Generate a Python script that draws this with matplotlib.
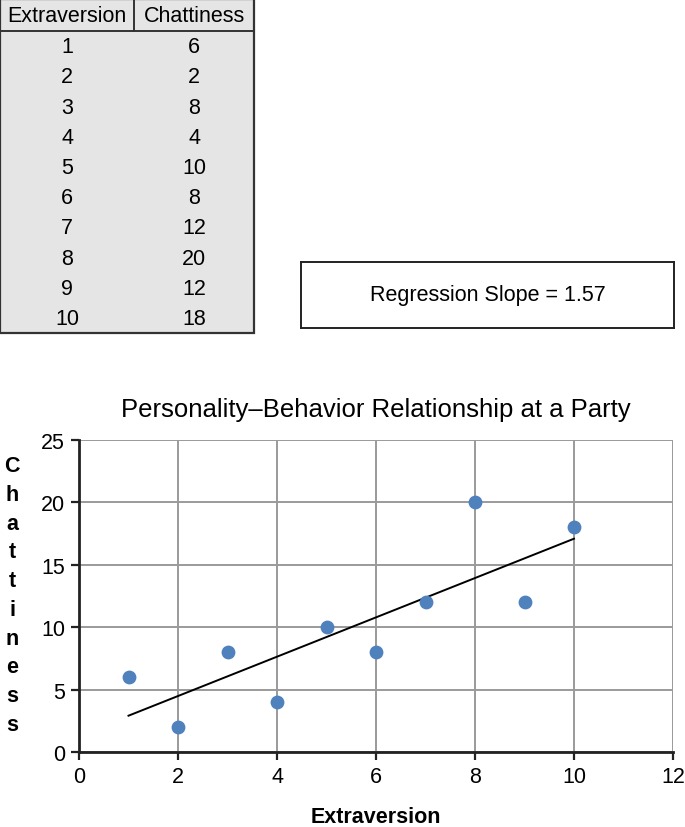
import numpy as np
import matplotlib.pyplot as plt
from matplotlib.patches import Rectangle

plt.rcParams['font.family'] = ['Liberation Sans', 'DejaVu Sans']

# data from the table in the picture
extraversion = [1, 2, 3, 4, 5, 6, 7, 8, 9, 10]
chattiness = [6, 2, 8, 4, 10, 8, 12, 20, 12, 18]
col_labels = ['Extraversion', 'Chattiness']
title = 'Personality\u2013Behavior Relationship at a Party'

x = np.array(extraversion)
y = np.array(chattiness)
slope, intercept = np.polyfit(x, y, 1)
# the picture shows the slope cut to two decimals
slope_txt = np.floor(slope * 100) / 100

fig = plt.figure(figsize=(6.85, 8.28), dpi=100)

# --- table, drawn in row units (header row a bit taller) ---
tab = fig.add_axes([0.0, 1 - 334 / 828, 254 / 685, 334 / 828])
head_h = 1.06
n = len(extraversion)
bottom = head_h + n
tab.set_xlim(0, 1)
tab.set_ylim(bottom, 0)
tab.axis('off')
tab.add_patch(Rectangle((0, 0), 1, bottom, facecolor='#e6e5e6',
                        edgecolor='#333333', lw=1.6, clip_on=False))
tab.plot([0, 1], [head_h, head_h], color='#333333', lw=1.4)
tab.plot([0.528, 0.528], [0, head_h], color='#333333', lw=1.4)
tab.text(0.264, head_h / 2 + 0.03, col_labels[0], ha='center', va='center', fontsize=15.5)
tab.text(0.764, head_h / 2 + 0.03, col_labels[1], ha='center', va='center', fontsize=15.5)
for i, (a, b) in enumerate(zip(extraversion, chattiness)):
    tab.text(0.264, head_h + i + 0.52, str(a), ha='center', va='center', fontsize=15.5)
    tab.text(0.764, head_h + i + 0.52, str(b), ha='center', va='center', fontsize=15.5)

# --- slope box ---
box = fig.add_axes([301 / 685, 1 - 329 / 828, 373 / 685, 66 / 828])
box.set_xticks([])
box.set_yticks([])
for s in box.spines.values():
    s.set_linewidth(1.4)
    s.set_color('#222222')
box.text(0.5, 0.5, 'Regression Slope = {:.2f}'.format(slope_txt),
         ha='center', va='center', fontsize=15.5, transform=box.transAxes)

# --- scatter chart ---
ax = fig.add_axes([79 / 685, 75 / 828, 594 / 685, 312 / 828])
ax.set_xlim(0, 12)
ax.set_ylim(0, 25)
ax.set_xticks(range(0, 13, 2))
ax.set_yticks(range(0, 26, 5))
ax.grid(True, color='#9a9a9a', lw=1.4)
ax.set_axisbelow(True)
for side in ['top', 'right']:
    ax.spines[side].set_visible(False)
for side in ['left', 'bottom']:
    ax.spines[side].set_linewidth(2)
    ax.spines[side].set_color('#222222')
ax.tick_params(direction='out', length=6, width=1.6, color='#222222',
               labelsize=15.5, pad=4)

ax.scatter(x, y, s=80, color='#4f81bd', zorder=3, clip_on=False)
xf = np.array([x.min(), x.max()])
ax.plot(xf, intercept + slope * xf, color='black', lw=1.4, zorder=2)

ax.set_title(title, fontsize=18.5, pad=17.5)
ax.set_xlabel(col_labels[0], fontsize=15.5, fontweight='bold', labelpad=14)
fig.text(12 / 685, 1 - 596 / 828, '\n'.join(col_labels[1]), ha='center',
         va='center', fontsize=15.5, fontweight='bold', linespacing=1.48)

fig.savefig('out.png', dpi=100)
